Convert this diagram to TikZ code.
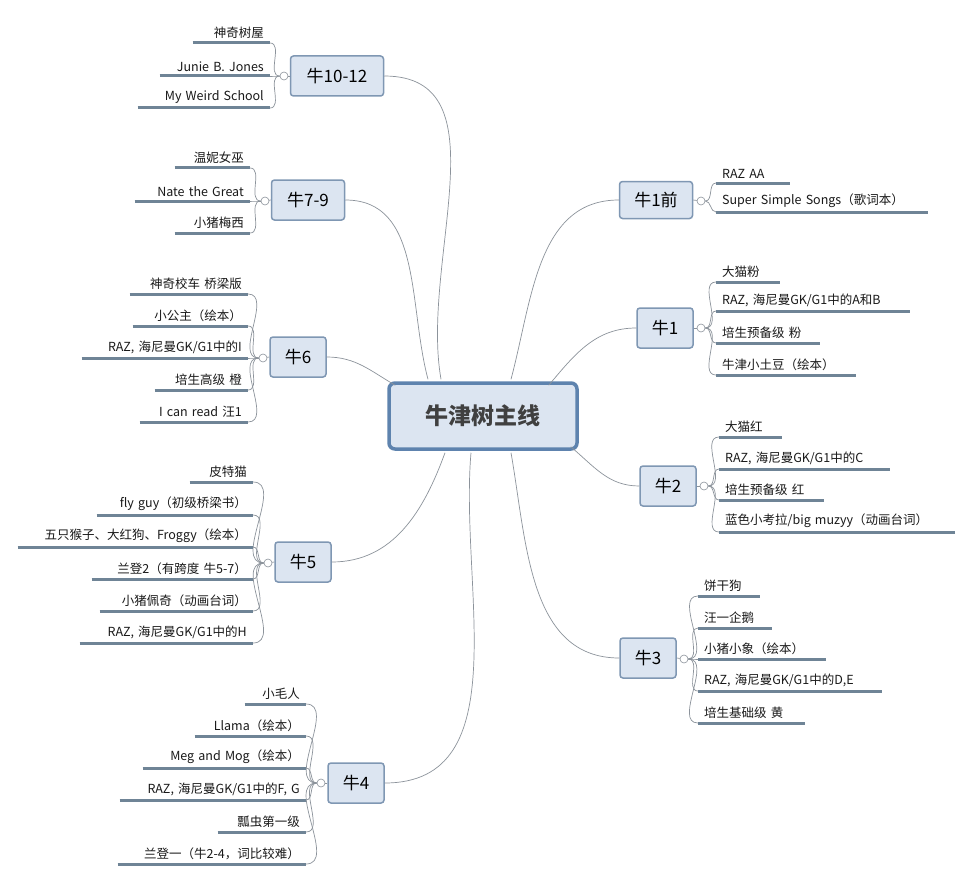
\documentclass[tikz,border=0pt]{standalone}
\usepackage{fontspec}
\setmainfont{Noto Sans CJK SC}
\usetikzlibrary{calc}
\definecolor{boxfill}{HTML}{DCE5F1}
\definecolor{boxline}{HTML}{7F97B3}
\definecolor{mainline}{HTML}{5E83AE}
\definecolor{ulc}{HTML}{6F8496}
\definecolor{conc}{HTML}{8C939B}
\tikzset{
 br/.style={draw=boxline,fill=boxfill,line width=1.5pt,rounded corners=3pt,minimum height=40pt,inner xsep=8pt,font=\fontsize{17}{19}\selectfont},
 mainbox/.style={draw=mainline,fill=boxfill,line width=3.5pt,rounded corners=6pt,minimum width=188pt,minimum height=66pt,font=\fontsize{23}{26}\selectfont\bfseries,text=black!75},
 lch/.style={inner xsep=6pt,inner ysep=4pt,font=\fontsize{12.5}{14}\selectfont,text=black!90},
 uline/.style={draw=ulc,line width=3pt},
 conn/.style={draw=conc,line width=0.7pt},
 circ/.style={draw=conc,circle,minimum size=8pt,inner sep=0pt,line width=0.6pt,fill=white}
}
\newcommand\leftgrp[3]{\foreach \t/\y/\s [count=\i] in {#3}{
 \pgfmathsetlengthmacro\w{(#2-\s-12)*1pt}
 \draw[conn] (#1o.west) to[out=180,in=0] (#2,\y);
 \node[lch,text width=\w,align=right,anchor=south east] (#1c\i) at (#2,\y) {\t};
 \draw[uline] (#1c\i.south west) -- (#1c\i.south east);
}}
\newcommand\rightgrp[3]{\foreach \t/\y/\e [count=\i] in {#3}{
 \pgfmathsetlengthmacro\w{(\e-#2-12)*1pt}
 \draw[conn] (#1o.east) to[out=0,in=180] (#2,\y);
 \node[lch,text width=\w,align=left,anchor=south west] (#1c\i) at (#2,\y) {\t};
 \draw[uline] (#1c\i.south west) -- (#1c\i.south east);
}}
\begin{document}
\begin{tikzpicture}[x=1pt,y=-1pt]
\useasboundingbox (0,0) rectangle (972,880);
\fill[white] (0,0) rectangle (972,880);
% main
\node[mainbox] (c) at (483,416) {牛津树主线};
% branches
\node[br,minimum width=93pt] (a) at (337,76) {牛10-12};
\node[br,minimum width=73pt] (b) at (308,200) {牛7-9};
\node[br,minimum width=56pt] (d) at (298,357) {牛6};
\node[br,minimum width=56pt] (e) at (303,562) {牛5};
\node[br,minimum width=56pt] (f) at (356,783) {牛4};
\node[br,minimum width=73pt,minimum height=37pt] (g) at (656,200) {牛1前};
\node[br,minimum width=56pt] (h) at (665,328) {牛1};
\node[br,minimum width=56pt] (k) at (668,486) {牛2};
\node[br,minimum width=56pt] (m) at (648,658) {牛3};
% main connectors
\begin{scope}[conn]
\draw (a.east) to[out=0,in=100] ($(c.north)+(-42,-2)$);
\draw (b.east) to[out=0,in=105] ($(c.north)+(-55,-2)$);
\draw (d.east) to[out=0,in=150] ($(c.north west)+(8,4)$);
\draw (e.east) to[out=0,in=-110] ($(c.south)+(-38,2)$);
\draw (f.east) to[out=0,in=-95] ($(c.south)+(-12,2)$);
\draw (g.west) to[out=180,in=75] ($(c.north)+(28,-2)$);
\draw (h.west) to[out=180,in=50] ($(c.north east)+(-30,4)$);
\draw (k.west) to[out=180,in=-40] ($(c.south east)+(-8,-4)$);
\draw (m.west) to[out=180,in=-80] ($(c.south)+(28,2)$);
\end{scope}
% circles
\node[circ] (ao) at (284,76) {};
\node[circ] (bo) at (265,201) {};
\node[circ] (do) at (263,358) {};
\node[circ] (eo) at (268,563) {};
\node[circ] (fo) at (321,783) {};
\node[circ] (go) at (701,201) {};
\node[circ] (ho) at (701,328) {};
\node[circ] (ko) at (704,486) {};
\node[circ] (mo) at (684,659) {};
\draw[conn] (a.west)--(ao); \draw[conn] (b.west)--(bo); \draw[conn] (d.west)--(do);
\draw[conn] (e.west)--(eo); \draw[conn] (f.west)--(fo); \draw[conn] (g.east)--(go);
\draw[conn] (h.east)--(ho); \draw[conn] (k.east)--(ko); \draw[conn] (m.east)--(mo);
% left groups
\leftgrp{a}{270}{神奇树屋/43/193, Junie B. Jones/76/160, My Weird School/108/138}
\leftgrp{b}{250}{温妮女巫/168/175, Nate the Great/201/135, 小猪梅西/233/175}
\leftgrp{d}{248}{神奇校车 桥梁版/294/130, 小公主（绘本）/326/133, {RAZ, 海尼曼GK/G1中的I}/358/82, 培生高级 橙/390/155, I can read 汪1/422/140}
\leftgrp{e}{253}{皮特猫/482/190, fly guy（初级桥梁书）/515/97, 五只猴子、大红狗、Froggy（绘本）/547/18, 兰登2（有跨度 牛5-7）/579/92, 小猪佩奇（动画台词）/611/100, {RAZ, 海尼曼GK/G1中的H}/643/80}
\leftgrp{f}{306}{小毛人/704/245, Llama（绘本）/736/195, Meg and Mog（绘本）/768/143, {RAZ, 海尼曼GK/G1中的F, G}/800/120, 瓢虫第一级/832/218, 兰登一（牛2-4，词比较难）/864/118}
% right groups
\rightgrp{g}{716}{RAZ AA/183/790, Super Simple Songs（歌词本）/212/928}
\rightgrp{h}{716}{大猫粉/282/780, {RAZ, 海尼曼GK/G1中的A和B}/311/910, 培生预备级 粉/343/820, 牛津小土豆（绘本）/375/856}
\rightgrp{k}{719}{大猫红/437/782, {RAZ, 海尼曼GK/G1中的C}/469/890, 培生预备级 红/500/824, {蓝色小考拉/big muzyy（动画台词）}/532/955}
\rightgrp{m}{698}{饼干狗/596/760, 汪一企鹅/628/772, 小猪小象（绘本）/659/826, {RAZ, 海尼曼GK/G1中的D,E}/691/882, 培生基础级 黄/723/805}
\end{tikzpicture}
\end{document}
